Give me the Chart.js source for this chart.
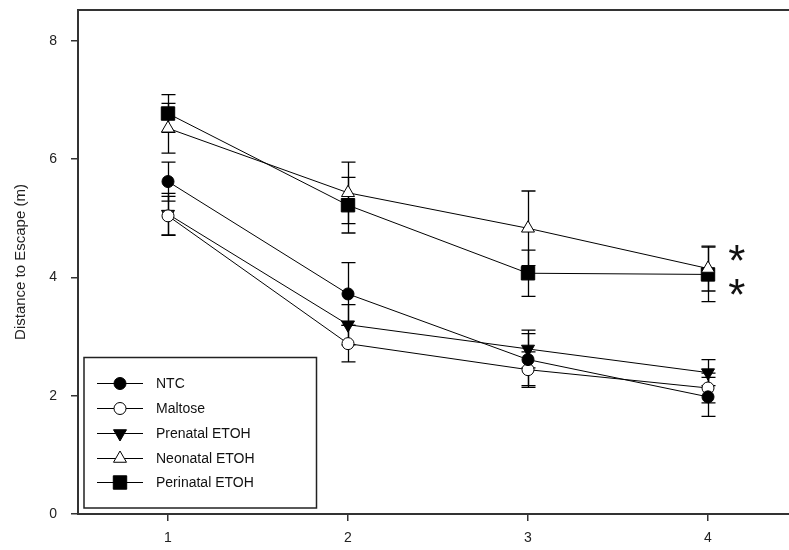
<!DOCTYPE html>
<html>
<head>
<meta charset="utf-8">
<script src="https://cdn.jsdelivr.net/npm/chart.js@4.4.1/dist/chart.umd.min.js"></script>
<style>
  html, body { margin: 0; padding: 0; background: #fff; overflow: hidden; }
  #c { display: block; }
</style>
</head>
<body>
<canvas id="c" width="789" height="550" style="width:789px;height:550px"></canvas>
<script>
// ---- data ----
const trials = [1, 2, 3, 4];
const xTicks = [1, 2, 3, 4];
const yTicks = [0, 2, 4, 6, 8];
const seriesNames = ['NTC', 'Maltose', 'Prenatal ETOH', 'Neonatal ETOH', 'Perinatal ETOH'];
const ntc       = [5.62, 3.72, 2.61, 1.98];
const ntcErr    = [0.33, 0.53, 0.44, 0.33];
const maltose   = [5.04, 2.88, 2.44, 2.13];
const maltoseErr= [0.33, 0.31, 0.30, 0.25];
const prenatal  = [5.07, 3.20, 2.79, 2.39];
const prenatalErr=[0.35, 0.34, 0.32, 0.22];
const neonatal  = [6.52, 5.43, 4.83, 4.15];
const neonatalErr=[0.42, 0.52, 0.63, 0.38];
const perinatal = [6.77, 5.22, 4.07, 4.05];
const perinatalErr=[0.32, 0.47, 0.39, 0.46];
const sigX = [4.16, 4.16];
const sigY = [4.42, 3.84];
const sigText = ['*', '*'];
const yTitle = 'Distance to Escape (m)';

const values = [ntc, maltose, prenatal, neonatal, perinatal];
const errors = [ntcErr, maltoseErr, prenatalErr, neonatalErr, perinatalErr];
const styles = [
  { pointStyle: 'circle',   radius: 6,   rotation: 0,   fill: '#000' },
  { pointStyle: 'circle',   radius: 6,   rotation: 0,   fill: '#fff' },
  { pointStyle: 'triangle', radius: 7.5, rotation: 180, fill: '#000' },
  { pointStyle: 'triangle', radius: 7.5, rotation: 0,   fill: '#fff' },
  { pointStyle: 'rect',     radius: 9.5, rotation: 0,   fill: '#000' }
];

const datasets = seriesNames.map((name, i) => ({
  label: name,
  data: trials.map((t, j) => ({ x: t, y: values[i][j] })),
  errs: errors[i],
  borderColor: '#000',
  borderWidth: 1,
  backgroundColor: styles[i].fill,
  pointStyle: styles[i].pointStyle,
  pointRadius: styles[i].radius,
  pointRotation: styles[i].rotation,
  pointBackgroundColor: styles[i].fill,
  pointBorderColor: '#000',
  pointBorderWidth: 1,
  tension: 0,
  fill: false
}));

const FONT = '"Liberation Sans", Arial, sans-serif';

const errorBars = {
  id: 'errorBars',
  beforeDatasetsDraw(chart) {
    const ctx = chart.ctx, xs = chart.scales.x, ys = chart.scales.y;
    ctx.save();
    ctx.strokeStyle = '#000';
    ctx.lineWidth = 1.3;
    chart.data.datasets.forEach(ds => {
      ds.data.forEach((p, j) => {
        const e = ds.errs[j];
        const px = Math.round(xs.getPixelForValue(p.x)) + 0.5;
        const top = ys.getPixelForValue(p.y + e);
        const bot = ys.getPixelForValue(p.y - e);
        ctx.beginPath();
        ctx.moveTo(px, top); ctx.lineTo(px, bot);
        ctx.moveTo(px - 7, top); ctx.lineTo(px + 7, top);
        ctx.moveTo(px - 7, bot); ctx.lineTo(px + 7, bot);
        ctx.stroke();
      });
    });
    ctx.restore();
  }
};

const extras = {
  id: 'extras',
  afterDraw(chart) {
    const ctx = chart.ctx, xs = chart.scales.x, ys = chart.scales.y, ca = chart.chartArea;
    ctx.save();
    // top frame line
    ctx.strokeStyle = '#333';
    ctx.lineWidth = 2;
    ctx.beginPath();
    ctx.moveTo(ca.left - 1, ca.top); ctx.lineTo(ca.right, ca.top);
    ctx.stroke();

    // significance asterisks
    ctx.fillStyle = '#111';
    ctx.font = '44px ' + FONT;
    ctx.textAlign = 'center';
    ctx.textBaseline = 'alphabetic';
    sigText.forEach((t, i) => {
      const m = ctx.measureText(t);
      const px = xs.getPixelForValue(sigX[i]);
      const py = ys.getPixelForValue(sigY[i]);
      const off = (m.actualBoundingBoxAscent - m.actualBoundingBoxDescent) / 2;
      ctx.fillText(t, px, py + off);
    });

    // legend box
    const L = 84, T = 357.5, R = 316.5, B = 508;
    ctx.fillStyle = '#fff';
    ctx.fillRect(L, T, R - L, B - T);
    ctx.strokeStyle = '#222';
    ctx.lineWidth = 1.5;
    ctx.strokeRect(L, T, R - L, B - T);
    const rowY = [383, 408, 433, 458, 482];
    chart.data.datasets.forEach((ds, i) => {
      const y = rowY[i];
      ctx.strokeStyle = '#000';
      ctx.lineWidth = 1;
      ctx.beginPath();
      ctx.moveTo(97, y + 0.5); ctx.lineTo(143, y + 0.5);
      ctx.stroke();
      ctx.fillStyle = ds.pointBackgroundColor;
      ctx.strokeStyle = '#000';
      Chart.helpers.drawPoint(ctx, {
        pointStyle: ds.pointStyle,
        radius: ds.pointRadius,
        rotation: ds.pointRotation,
        borderWidth: 1
      }, 120, y + 0.5);
      ctx.fillStyle = '#111';
      ctx.font = '14px ' + FONT;
      ctx.textAlign = 'left';
      ctx.textBaseline = 'middle';
      ctx.fillText(ds.label, 156, y + 1);
    });
    ctx.restore();
  }
};

new Chart(document.getElementById('c'), {
  type: 'line',
  data: { datasets },
  options: {
    responsive: false,
    maintainAspectRatio: false,
    devicePixelRatio: 1,
    animation: false,
    layout: { autoPadding: false, padding: { top: 10, right: 0, bottom: 0, left: 0 } },
    plugins: { legend: { display: false }, tooltip: { enabled: false } },
    scales: {
      x: {
        type: 'linear',
        min: 0.5,
        max: 4.45,
        afterBuildTicks(s) { s.ticks = xTicks.map(v => ({ value: v })); },
        afterFit(s) { s.height = 36; s.paddingRight = 0; s.paddingLeft = 0; },
        grid: { drawOnChartArea: false, drawTicks: true, tickLength: 7, color: '#333', lineWidth: 1.5 },
        border: { display: true, color: '#333', width: 2 },
        ticks: { color: '#222', font: { family: FONT, size: 14 }, padding: 9, callback: v => String(v) }
      },
      y: {
        type: 'linear',
        min: 0,
        max: 8.52,
        afterBuildTicks(s) { s.ticks = yTicks.map(v => ({ value: v })); },
        afterFit(s) { s.width = 78; s.paddingTop = 0; s.paddingBottom = 0; },
        grid: { drawOnChartArea: false, drawTicks: true, tickLength: 7, color: '#333', lineWidth: 1.5 },
        border: { display: true, color: '#333', width: 2 },
        ticks: { color: '#222', font: { family: FONT, size: 14 }, padding: 14, callback: v => String(v) },
        title: { display: true, text: yTitle, color: '#222', font: { family: FONT, size: 15 }, padding: { top: 12, bottom: 14 } }
      }
    }
  },
  plugins: [errorBars, extras]
});
</script>
</body>
</html>
